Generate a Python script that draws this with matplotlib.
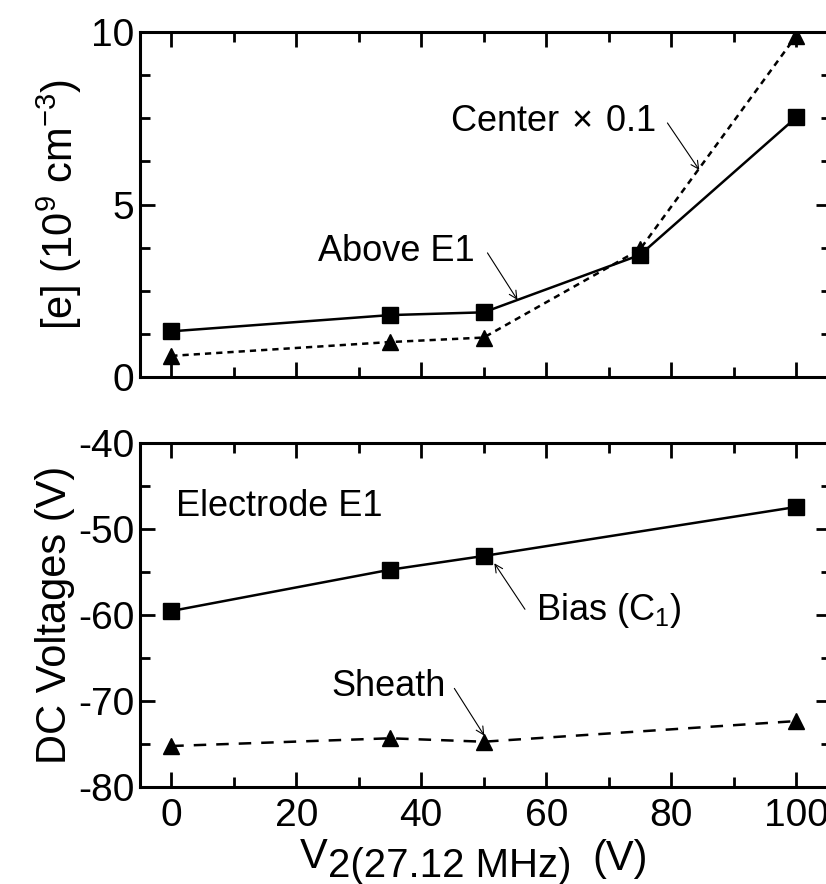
import matplotlib
matplotlib.use("Agg")
import matplotlib.pyplot as plt
from matplotlib.ticker import MultipleLocator

plt.rcParams['font.family'] = ['Liberation Sans', 'DejaVu Sans']
plt.rcParams['mathtext.default'] = 'regular'
plt.rcParams['axes.unicode_minus'] = False

# RF voltage on the second electrode (V)
v2 = [0, 35, 50, 75, 100]
above_e1 = [1.33, 1.80, 1.88, 3.54, 7.52]
center_x01 = [0.62, 1.02, 1.15, 3.70, 9.88]

v2_dc = [0, 35, 50, 100]
bias_c1 = [-59.5, -54.7, -53.1, -47.4]
sheath = [-75.2, -74.3, -74.7, -72.3]

fig = plt.figure(figsize=(8.26, 8.84), dpi=100)
ax1 = fig.add_axes([0.1695, 0.5732, 0.836, 0.3909])
ax2 = fig.add_axes([0.1695, 0.1094, 0.836, 0.3891])

for ax in (ax1, ax2):
    ax.set_xlim(-5, 105.5)
    ax.xaxis.set_major_locator(MultipleLocator(20))
    ax.xaxis.set_minor_locator(MultipleLocator(10))
    ax.tick_params(which='both', direction='in', top=True, right=True,
                   width=2, labelsize=28)
    ax.tick_params(which='major', length=11)
    ax.tick_params(which='minor', length=7)
    ax.tick_params(axis='y', pad=4)
    ax.tick_params(axis='x', pad=8)
    for sp in ax.spines.values():
        sp.set_linewidth(2.2)

# electron density
ax1.plot(v2, above_e1, '-', color='black', lw=1.8, marker='s', ms=12)
ax1.plot(v2, center_x01, color='black', lw=1.8, ls=(0, (2.5, 2)),
         marker='^', ms=11)
ax1.set_ylim(0, 10)
ax1.yaxis.set_major_locator(MultipleLocator(5))
ax1.yaxis.set_minor_locator(MultipleLocator(1.25))
ax1.tick_params(labelbottom=False)
ax1.set_ylabel('[e] (10$^{9}$ cm$^{-3}$)', fontsize=30, labelpad=5)

arrow = dict(arrowstyle='->', color='black', lw=0.8, shrinkA=0, shrinkB=0,
             mutation_scale=14)
ax1.text(77.5, 7.39, 'Center$\\,\\times\\,$0.1', fontsize=26, ha='right',
         va='center')
ax1.annotate('', xy=(84.5, 6.0), xytext=(79.4, 7.36), arrowprops=arrow)
ax1.text(48.5, 3.63, 'Above E1', fontsize=26, ha='right', va='center')
ax1.annotate('', xy=(55.4, 2.24), xytext=(50.6, 3.6), arrowprops=arrow)

# DC voltages on electrode E1
ax2.plot(v2_dc, bias_c1, '-', color='black', lw=1.8, marker='s', ms=12)
ax2.plot(v2_dc, sheath, color='black', lw=1.8, ls=(0, (5, 4)),
         marker='^', ms=11)
ax2.set_ylim(-80, -40)
ax2.yaxis.set_major_locator(MultipleLocator(10))
ax2.yaxis.set_minor_locator(MultipleLocator(5))
ax2.set_ylabel('DC Voltages (V)', fontsize=30, labelpad=2)

ax2.text(0.8, -47.3, 'Electrode E1', fontsize=26, ha='left', va='center')
ax2.text(58.4, -59.4, 'Bias (C$_{1}$)', fontsize=26, ha='left', va='center')
ax2.annotate('', xy=(51.7, -53.95), xytext=(56.6, -59.3), arrowprops=arrow)
ax2.text(44.0, -68.3, 'Sheath', fontsize=26, ha='right', va='center')
ax2.annotate('', xy=(50.1, -74.0), xytext=(45.3, -68.5), arrowprops=arrow)

# x label built from pieces so the subscript keeps a large size
renderer = fig.canvas.get_renderer()
t1 = fig.text(300 / 826, 1 - 868 / 884, 'V', fontsize=30, ha='left',
              va='baseline')
bb = t1.get_window_extent(renderer)
t2 = fig.text(bb.x1 / 826, 1 - 877 / 884, '2(27.12 MHz)', fontsize=29,
              ha='left', va='baseline')
bb2 = t2.get_window_extent(renderer)
fig.text(bb2.x1 / 826 + 0.025, 1 - 870 / 884, '(V)', fontsize=30,
         ha='left', va='baseline')

fig.savefig('out.png', dpi=100)
